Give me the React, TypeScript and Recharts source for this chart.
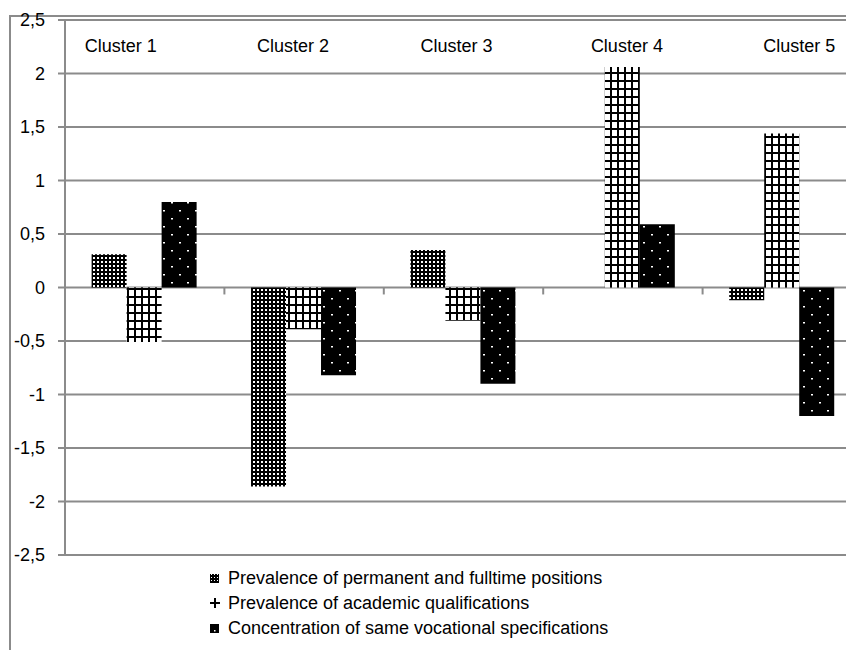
import React from 'react';
import { BarChart, Bar, XAxis, YAxis, CartesianGrid, ReferenceLine } from 'recharts';

const clusters = ['Cluster 1', 'Cluster 2', 'Cluster 3', 'Cluster 4', 'Cluster 5'];
const permanent = [0.31, -1.86, 0.35, 0, -0.12];
const academic = [-0.51, -0.39, -0.31, 2.06, 1.44];
const vocational = [0.8, -0.82, -0.9, 0.59, -1.2];
const yTicks = [-2.5, -2, -1.5, -1, -0.5, 0, 0.5, 1, 1.5, 2, 2.5];
const seriesNames = [
  'Prevalence of permanent and fulltime positions',
  'Prevalence of academic qualifications',
  'Concentration of same vocational specifications',
];

const data = clusters.map((c, i) => ({
  cluster: c,
  permanent: permanent[i],
  academic: academic[i],
  vocational: vocational[i],
}));

const FONT = '"Liberation Sans", Arial, sans-serif';
const GRID = '#8b8b8b';
const labelShift = [-24, -11, -7, 4, 17];

const ClusterTick = (props: any) => {
  const { x, y, payload, index } = props;
  return (
    <text x={x + (labelShift[index] || 0)} y={y} dy={24} textAnchor="middle" fontFamily={FONT} fontSize={18} fill="#000">
      {payload.value}
    </text>
  );
};

const Icon = ({ i }: { i: number }) => {
  if (i === 0) {
    return (
      <svg width={10} height={10} style={{ display: 'block' }}>
        <defs>
          <pattern id="lgP1" width={3} height={3} patternUnits="userSpaceOnUse">
            <rect width={3} height={3} fill="#000" />
            <rect x={1} y={1} width={1} height={1} fill="#fff" />
          </pattern>
        </defs>
        <rect x={0} y={1} width={9} height={9} fill="url(#lgP1)" />
      </svg>
    );
  }
  if (i === 1) {
    return (
      <svg width={10} height={10} style={{ display: 'block' }}>
        <rect x={4} y={0} width={2} height={10} fill="#000" />
        <rect x={0} y={4} width={10} height={2} fill="#000" />
      </svg>
    );
  }
  return (
    <svg width={10} height={10} style={{ display: 'block' }}>
      <rect x={0} y={1} width={9} height={9} fill="#000" />
      <rect x={4} y={7} width={1.5} height={1.5} fill="#fff" />
    </svg>
  );
};

export default function App() {
  return (
    <div style={{ position: 'relative', width: 846, height: 642, overflow: 'hidden', background: '#fff' }}>
      <div
        style={{
          position: 'absolute',
          left: 1,
          top: 7,
          width: 1000,
          height: 1000,
          borderLeft: `2px solid ${GRID}`,
          borderTop: `2px solid ${GRID}`,
        }}
      />
      <div style={{ position: 'absolute', left: 0, top: 0 }}>
        <BarChart
          width={870}
          height={642}
          data={data}
          margin={{ top: 12, right: 16, bottom: 95, left: 0 }}
          barCategoryGap="16.7%"
          barGap={0}
        >
          <defs>
            <pattern id="pPerm" width={4} height={4} patternUnits="userSpaceOnUse">
              <rect width={4} height={4} fill="#000" />
              <rect x={1} y={1} width={2} height={2} fill="#fff" />
            </pattern>
            <pattern id="pAcad" width={7} height={8} patternUnits="userSpaceOnUse">
              <rect width={7} height={8} fill="#fff" />
              <rect x={0} y={0} width={2} height={8} fill="#000" />
              <rect x={0} y={0} width={7} height={2} fill="#000" />
            </pattern>
            <pattern id="pVoc" width={16} height={16} patternUnits="userSpaceOnUse">
              <rect width={16} height={16} fill="#000" />
              <rect x={3} y={2} width={2} height={1.5} fill="#fff" />
              <rect x={11} y={10} width={2} height={1.5} fill="#fff" />
            </pattern>
          </defs>
          <CartesianGrid horizontal vertical={false} stroke={GRID} strokeWidth={2} />
          <XAxis
            xAxisId="cat"
            dataKey="cluster"
            orientation="top"
            mirror
            axisLine={false}
            tickLine={false}
            interval={0}
            tick={ClusterTick}
          />
          <YAxis
            domain={[-2.5, 2.5]}
            ticks={yTicks}
            interval={0}
            allowDataOverflow
            width={57}
            tickSize={7}
            tickMargin={13}
            axisLine={{ stroke: GRID, strokeWidth: 2 }}
            tickLine={{ stroke: GRID, strokeWidth: 2 }}
            tick={{ fill: '#000', fontSize: 18, fontFamily: FONT }}
            tickFormatter={(v: number) => String(v).replace('.', ',')}
          />
          {clusters.slice(1).map((c) => (
            <ReferenceLine
              key={c}
              xAxisId="cat"
              position="start"
              segment={[
                { x: c, y: 0 },
                { x: c, y: -0.065 },
              ]}
              stroke={GRID}
              strokeWidth={2}
              ifOverflow="visible"
            />
          ))}
          <Bar xAxisId="cat" dataKey="permanent" fill="url(#pPerm)" isAnimationActive={false} />
          <Bar xAxisId="cat" dataKey="academic" fill="url(#pAcad)" isAnimationActive={false} />
          <Bar xAxisId="cat" dataKey="vocational" fill="url(#pVoc)" isAnimationActive={false} />
        </BarChart>
      </div>
      {seriesNames.map((name, i) => (
        <div
          key={name}
          style={{
            position: 'absolute',
            left: 202,
            top: 559 + i * 25,
            height: 22,
            display: 'flex',
            alignItems: 'center',
            fontFamily: FONT,
            fontSize: 18,
            color: '#000',
            whiteSpace: 'nowrap',
          }}
        >
          <div style={{ width: 18 }}>
            <Icon i={i} />
          </div>
          <span>{name}</span>
        </div>
      ))}
    </div>
  );
}
